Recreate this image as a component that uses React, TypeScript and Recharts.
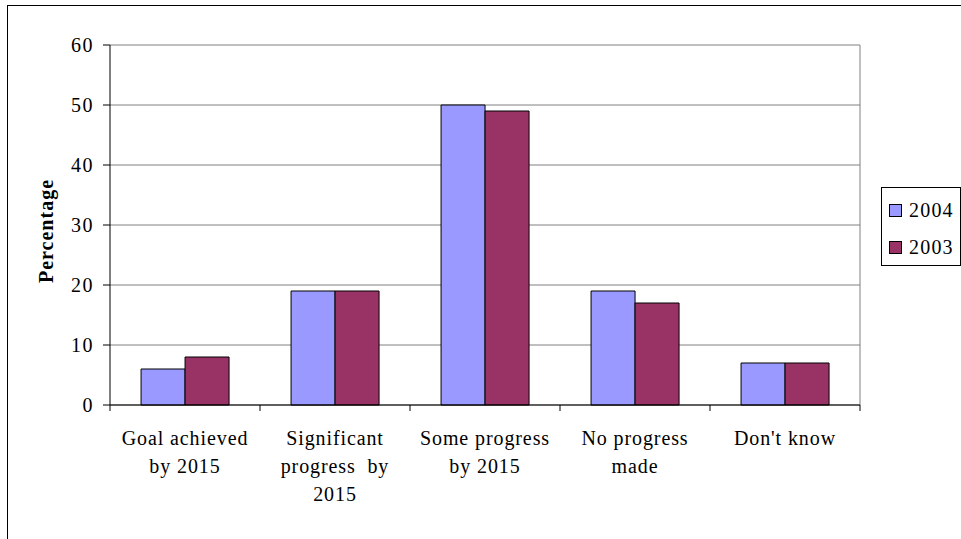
import { Bar, BarChart, CartesianGrid, XAxis, YAxis } from 'recharts';

const categories = [
  ['Goal achieved', 'by 2015'],
  ['Significant', 'progress  by', '2015'],
  ['Some progress', 'by 2015'],
  ['No progress', 'made'],
  ["Don't know"],
];
const values2004 = [6, 19, 50, 19, 7];
const values2003 = [8, 19, 49, 17, 7];
const yTicks = [0, 10, 20, 30, 40, 50, 60];

const seriesList = [
  { key: 'y2004', name: '2004', color: '#9999FF' },
  { key: 'y2003', name: '2003', color: '#993366' },
];

const data = categories.map((lines, i) => ({
  label: lines.join('\n'),
  y2004: values2004[i],
  y2003: values2003[i],
}));

const FONT = 'Liberation Serif, DejaVu Serif, serif';
const BAND = 150;

// category label + boundary tick marks (Excel puts ticks between categories)
const CategoryTick = (props: any) => {
  const { x, y, payload, index } = props;
  const lines = String(payload.value).split('\n');
  const top = y - 8;
  return (
    <g>
      <line x1={x - BAND / 2} y1={top} x2={x - BAND / 2} y2={top + 6} stroke="#000" />
      {index === categories.length - 1 && (
        <line x1={x + BAND / 2} y1={top} x2={x + BAND / 2} y2={top + 6} stroke="#000" />
      )}
      <text
        textAnchor="middle"
        style={{ fontFamily: FONT, fontSize: 20, letterSpacing: 0.9 }}
        fill="#000"
      >
        {lines.map((l, i) => (
          <tspan key={i} x={x} y={top + 40 + i * 28} style={{ whiteSpace: 'pre' }}>
            {l}
          </tspan>
        ))}
      </text>
    </g>
  );
};

const YLabel = (props: any) => {
  const { viewBox } = props;
  const cy = viewBox.y + viewBox.height / 2 + 6;
  return (
    <text
      transform={`translate(53, ${cy}) rotate(-90)`}
      textAnchor="middle"
      style={{ fontFamily: FONT, fontSize: 20, fontWeight: 'bold', letterSpacing: 1 }}
      fill="#000"
    >
      Percentage
    </text>
  );
};

const LegendBox = () => (
  <div
    style={{
      position: 'absolute',
      left: 881,
      top: 187,
      width: 80,
      height: 79,
      border: '1px solid #000',
      background: '#fff',
      boxSizing: 'border-box',
      fontFamily: FONT,
      fontSize: 20,
      letterSpacing: 1.2,
      paddingTop: 11,
      paddingLeft: 7,
    }}
  >
    {seriesList.map(s => (
      <div
        key={s.key}
        style={{ display: 'flex', alignItems: 'center', height: 22, marginBottom: 15.5 }}
      >
        <span
          style={{
            width: 11,
            height: 11,
            background: s.color,
            border: '1.5px solid #000',
            marginRight: 7,
            flexShrink: 0,
          }}
        />
        <span>{s.name}</span>
      </div>
    ))}
  </div>
);

export default function App() {
  return (
    <div
      style={{
        position: 'absolute',
        left: 0,
        top: 0,
        width: 961,
        height: 539,
        overflow: 'hidden',
        background: '#fff',
      }}
    >
      <div
        style={{
          position: 'absolute',
          left: 7,
          top: 5,
          width: 980,
          height: 600,
          border: '1px solid #000',
        }}
      />
      <div style={{ position: 'absolute', left: 0, top: 0 }}>
        <BarChart
          width={961}
          height={539}
          data={data}
          margin={{ top: 45, right: 101, left: 0, bottom: 0 }}
          barCategoryGap="20.7%"
          barGap={0}
        >
          <CartesianGrid
            stroke="#808080"
            horizontal
            vertical
            verticalCoordinatesGenerator={({ offset }: any) => [offset.left + offset.width]}
          />
          <XAxis
            dataKey="label"
            interval={0}
            tickLine={false}
            axisLine={{ stroke: '#000' }}
            tick={<CategoryTick />}
            height={134}
          />
          <YAxis
            domain={[0, 60]}
            ticks={yTicks}
            width={110}
            tickSize={7}
            tickMargin={9}
            tickLine={{ stroke: '#000' }}
            axisLine={{ stroke: '#000' }}
            tick={{ fontFamily: FONT, fontSize: 20, fill: '#000', letterSpacing: 1.5 }}
            label={<YLabel />}
          />
          {seriesList.map(s => (
            <Bar
              key={s.key}
              dataKey={s.key}
              name={s.name}
              fill={s.color}
              stroke="#000"
              strokeWidth={1}
              isAnimationActive={false}
            />
          ))}
        </BarChart>
      </div>
      <LegendBox />
    </div>
  );
}
